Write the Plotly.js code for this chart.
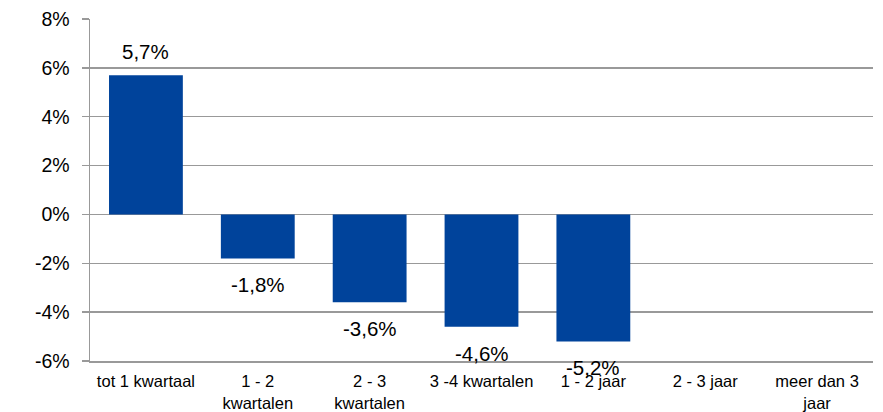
<!DOCTYPE html>
<html>
<head>
<meta charset="utf-8">
<script src="https://cdn.plot.ly/plotly-3.0.1.min.js"></script>
<style>html,body{margin:0;padding:0;background:#fff;}#chart{width:883px;height:412px;}</style>
</head>
<body>
<div id="chart"></div>
<script>
const categories = ["tot 1 kwartaal", "1 - 2<br>kwartalen", "2 - 3<br>kwartalen", "3 -4 kwartalen", "1 - 2 jaar", "2 - 3 jaar", "meer dan 3<br>jaar"];
const values = [5.7, -1.8, -3.6, -4.6, -5.2, null, null];
const yTicks = [-6, -4, -2, 0, 2, 4, 6, 8];

const annotations = [];
categories.forEach((c, i) => {
  const v = values[i];
  if (v === null) return;
  annotations.push({
    x: c, y: v, xref: 'x', yref: 'y',
    text: String(v).replace('.', ',') + '%',
    showarrow: false,
    yanchor: v >= 0 ? 'bottom' : 'top',
    yshift: v >= 0 ? 10 : -13,
    font: {family: 'Liberation Sans, Arial, sans-serif', size: 20.5, color: '#000'}
  });
});

const trace = {
  type: 'bar',
  x: categories,
  y: values,
  marker: {color: '#00439B', line: {width: 0}},
  hoverinfo: 'skip'
};

const layout = {
  width: 883, height: 412,
  margin: {l: 90, r: 10, t: 19, b: 51},
  paper_bgcolor: '#fff', plot_bgcolor: '#fff',
  bargap: 0.34,
  showlegend: false,
  font: {family: 'Liberation Sans, Arial, sans-serif', color: '#000'},
  xaxis: {
    type: 'category',
    showgrid: false,
    showline: true, linecolor: '#999', linewidth: 1.5,
    ticks: '',
    ticklabelstandoff: 5,
    tickfont: {size: 16.5, color: '#000'},
    fixedrange: true
  },
  yaxis: {
    range: [-6, 8],
    tickvals: yTicks,
    ticktext: yTicks.map(t => t + '%'),
    showgrid: true, gridcolor: '#999', gridwidth: 1.5,
    zeroline: false,
    showline: true, linecolor: '#999', linewidth: 1.5,
    ticks: 'outside', ticklen: 7, tickcolor: '#999', tickwidth: 1.5,
    ticklabelstandoff: 8,
    tickfont: {size: 19.5, color: '#000'},
    fixedrange: true
  },
  annotations: annotations
};

Plotly.newPlot('chart', [trace], layout, {displayModeBar: false, staticPlot: true});
</script>
</body>
</html>
